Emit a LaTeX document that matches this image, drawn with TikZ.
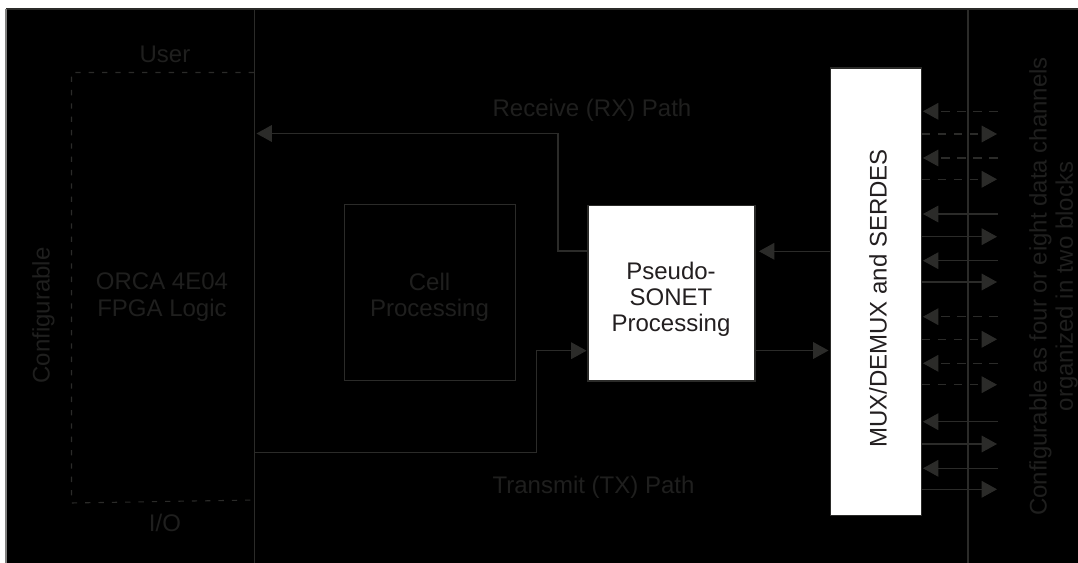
\documentclass[tikz,border=0pt]{standalone}
\usepackage{fontspec}
\setmainfont{Liberation Sans}
\usetikzlibrary{arrows.meta}
\definecolor{ink}{HTML}{2B2B29}
\definecolor{dimtext}{HTML}{1F1F1E}
\definecolor{boxtext}{HTML}{231F20}
\tikzset{
  wire/.style={draw=ink,line width=0.8pt},
  arrowwire/.style={wire,-{Triangle[length=11.5pt,width=12.5pt,fill=ink]}},
  dashwire/.style={arrowwire,dash pattern=on 6.5pt off 5.5pt},
  userdash/.style={wire,dash pattern=on 4pt off 6pt},
  dimlabel/.style={text=dimtext,font=\fontsize{18}{19.7}\selectfont,align=center,inner sep=0pt},
  boxlabel/.style={text=boxtext,font=\fontsize{18}{19.7}\selectfont,align=center,inner sep=0pt},
  whitebox/.style={draw=ink,line width=0.8pt,fill=white,outer sep=0pt,inner sep=0pt},
}
\begin{document}
\begin{tikzpicture}[x=0.75pt,y=-0.75pt]
\useasboundingbox (0,0) rectangle (1078,563);
\fill[white] (0,0) rectangle (1078,563);
\fill[black] (6,8.5) rectangle (1078,563);
\draw[draw=ink,line width=0.8pt] (1078,9) -- (6,9);
\draw[draw=ink!60!white,line width=0.8pt] (6,563) -- (6,9);

% region boundaries
\coordinate (ltop) at (254.5,9);
\coordinate (lbot) at (254.5,563);
\coordinate (rtop) at (968,9);
\coordinate (rbot) at (968,563);
\draw[wire] (ltop) -- (lbot);
\draw[wire] (rtop) -- (rbot);

% user I/O dashed outline
\coordinate (ua) at (254,72.5);
\coordinate (ub) at (71.5,72.5);
\coordinate (uc) at (71.5,503);
\coordinate (ud) at (254,500);
\draw[userdash] (ua) -- (ub) -- (uc) -- (ud);

% blocks
\node[whitebox,minimum width=167pt*0.75,minimum height=175.5pt*0.75] (pseudo) at (671.5,293.25) {};
\node[boxlabel] (pseudotext) at (671,299.5) {Pseudo-\\SONET\\Processing};
\node[whitebox,minimum width=91pt*0.75,minimum height=447.7pt*0.75] (mux) at (876.2,291.85) {};
\node[boxlabel,rotate=90] (muxtext) at (878,298.5) {MUX/DEMUX and SERDES};
\node[draw=ink,line width=0.8pt,minimum width=171pt*0.75,minimum height=176.2pt*0.75,outer sep=0pt,inner sep=0pt] (cell) at (430,292.6) {};

% labels
\node[dimlabel] (userlabel) at (165,54) {User};
\node[dimlabel] (iolabel) at (165,523) {I/O};
\node[dimlabel,rotate=90] (cfglabel) at (43.5,315.5) {Configurable};
\node[dimlabel] (orca) at (162,297) {ORCA 4E04\\FPGA Logic};
\node[dimlabel] (celltext) at (429.5,297) {Cell\\Processing};
\node[dimlabel] (rxlabel) at (592,110.5) {Receive (RX) Path};
\node[dimlabel] (txlabel) at (593.5,487) {Transmit (TX) Path};
\node[dimlabel,rotate=90] (chan) at (1053.5,286.5) {Configurable as four or eight data channels\\organized in two blocks};

% receive and transmit paths
\coordinate (rxout) at (256.5,133.5);
\coordinate (rxstart) at (558,251);
\draw[arrowwire] (pseudo.west |- rxstart) -- (rxstart) -- (rxstart |- rxout) -- (rxout);
\coordinate (txstart) at (254.5,452.7);
\coordinate (txbend) at (536.7,350.7);
\coordinate (txend) at (586.5,350.7);
\draw[arrowwire] (txstart) -- (txbend |- txstart) -- (txbend) -- (txend);

% between pseudo-SONET and mux
\coordinate (up) at (759,251.3);
\coordinate (down) at (828.5,350.5);
\draw[arrowwire] (mux.west |- up) -- (up);
\draw[arrowwire] (pseudo.east |- down) -- (down);

% serial channels
\foreach \yy/\st in {111.3/dashwire,158/dashwire,214/arrowwire,260.7/arrowwire,316.7/dashwire,363.3/dashwire,421.7/arrowwire,468.3/arrowwire}{
  \coordinate (free) at (998,\yy);
  \coordinate (tip) at (923,\yy);
  \draw[\st] (free) -- (tip);
}
\foreach \yy/\st in {134/dashwire,179.3/dashwire,236.7/arrowwire,282/arrowwire,339.3/dashwire,384.7/dashwire,444/arrowwire,489.3/arrowwire}{
  \coordinate (tip) at (997,\yy);
  \draw[\st] (mux.east |- tip) -- (tip);
}
\end{tikzpicture}
\end{document}
